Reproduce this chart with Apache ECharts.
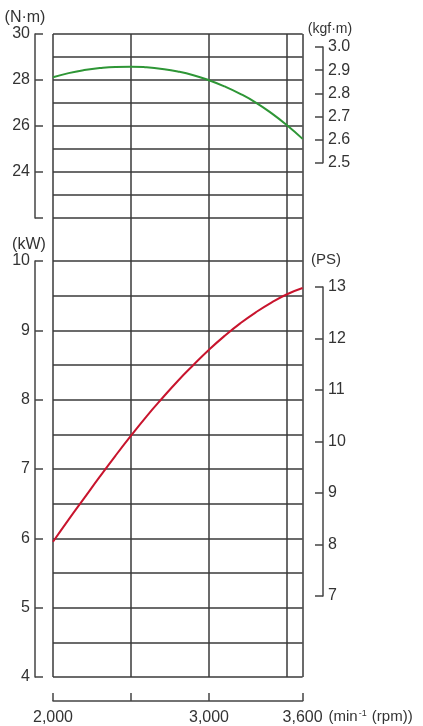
<!DOCTYPE html>
<html>
<head>
<meta charset="utf-8">
<script src="https://cdn.jsdelivr.net/npm/echarts@6/dist/echarts.min.js"></script>
<style>
html,body{margin:0;padding:0;background:#fff;}
#c{width:423px;height:726px;}
</style>
</head>
<body>
<div id="c"></div>
<script>
// ---- data ----
const rpm = [2000,2100,2200,2300,2400,2500,2600,2700,2800,2900,3000,3100,3200,3300,3400,3500,3600];
const torqueNm = [28.12,28.30,28.43,28.52,28.57,28.58,28.55,28.48,28.37,28.21,27.99,27.72,27.40,27.02,26.56,26.03,25.44];
const powerKW = [5.95,6.27,6.58,6.89,7.19,7.48,7.76,8.02,8.27,8.50,8.72,8.92,9.10,9.26,9.40,9.52,9.61];
const xTickValues = [2000,2500,3000,3600];
const xLabelValues = [2000,3000,3600];

const ink = '#333';
const gridLine = '#3a3a3a';
const font = 'Liberation Sans, Arial, sans-serif';

const L = 53, R = 423 - 302.6;
const chart = echarts.init(document.getElementById('c'));

function hiddenX(gi){
  return {gridIndex:gi,type:'value',min:2000,max:3600,interval:500,
    axisLine:{show:false},axisTick:{show:false},axisLabel:{show:false},splitLine:{show:false}};
}
function splitY(gi,min,max,interval){
  return {gridIndex:gi,type:'value',min:min,max:max,interval:interval,
    axisLine:{show:false},axisTick:{show:false},axisLabel:{show:false},
    splitLine:{show:true,lineStyle:{color:gridLine,width:1.5}}};
}
function bracketY(gi,pos,offset,min,max,interval,name,nameGap,namePad,nameSize,fmt){
  return {gridIndex:gi,type:'value',position:pos,offset:offset,min:min,max:max,interval:interval,
    name:name,nameLocation:'end',nameGap:nameGap,
    nameTextStyle:{color:ink,fontSize:nameSize,fontFamily:font,padding:namePad},
    axisLine:{show:true,lineStyle:{color:'#444',width:1.5}},
    axisTick:{show:true,inside:true,length:8,lineStyle:{color:'#444',width:1.5}},
    axisLabel:{show:true,color:ink,fontSize:16,fontFamily:font,margin:5,formatter:fmt},
    splitLine:{show:false}};
}

const option = {
  backgroundColor:'#fff',
  animation:false,
  grid:[
    {left:L,right:R,top:34,bottom:726-677},            // 0 background verticals
    {left:L,right:R,top:34,height:184},                // 1 torque N·m
    {left:L,right:R,top:47,height:115.7},              // 2 kgf·m
    {left:L,right:R,top:261,height:416},               // 3 kW
    {left:L,right:R,top:287,height:309}                // 4 PS
  ],
  xAxis:[
    {gridIndex:0,type:'value',min:2000,max:3600,interval:500,
      axisLine:{show:false},axisTick:{show:false},axisLabel:{show:false},
      splitLine:{show:true,lineStyle:{color:gridLine,width:1.5}}},
    hiddenX(1),
    hiddenX(2),
    {gridIndex:3,type:'value',min:2000,max:3600,interval:500,position:'bottom',offset:24,
      name:'(min{sup|-1} (rpm))',nameLocation:'end',nameGap:25,
      nameTextStyle:{color:ink,fontSize:15,fontFamily:font,padding:[32,0,0,0],
        rich:{sup:{fontSize:9,fontFamily:font,color:ink,verticalAlign:'top',padding:[0,1,6,1]}}},
      axisLine:{show:true,lineStyle:{color:'#444',width:1.5}},
      axisTick:{show:true,inside:true,length:8,customValues:xTickValues,lineStyle:{color:'#444',width:1.5}},
      axisLabel:{show:true,customValues:xLabelValues,color:ink,fontSize:16,fontFamily:font,margin:9,
        formatter:v=>String(v).replace(/\B(?=(\d{3})+(?!\d))/g, ',')},
      splitLine:{show:false}},
    hiddenX(4)
  ],
  yAxis:[
    {gridIndex:0,type:'value',min:0,max:1,axisLine:{show:false},axisTick:{show:false},axisLabel:{show:false},splitLine:{show:false}},
    splitY(1,22,30,1),
    bracketY(1,'left',18,22,30,2,'(N·m)',8,[0,20,0,0],16,v=>v===22?'':String(v)),
    bracketY(2,'right',20.4,2.5,3.0,0.1,'(kgf·m)',11,[0,0,0,14],14,v=>v.toFixed(1)),
    splitY(3,4,10,0.5),
    bracketY(3,'left',18,4,10,1,'(kW)',8,[0,12,0,0],16,v=>String(v)),
    bracketY(4,'right',20.4,7,13,1,'(PS)',20,[0,0,0,6],15,v=>String(v))
  ],
  series:[
    {type:'line',xAxisIndex:1,yAxisIndex:1,smooth:0.5,symbol:'none',
      lineStyle:{color:'#2e9636',width:2},
      data:rpm.map((r,i)=>[r,torqueNm[i]])},
    {type:'line',xAxisIndex:3,yAxisIndex:4,smooth:0.5,symbol:'none',
      lineStyle:{color:'#c8142d',width:2},
      data:rpm.map((r,i)=>[r,powerKW[i]])}
  ]
};
chart.setOption(option);
</script>
</body>
</html>
